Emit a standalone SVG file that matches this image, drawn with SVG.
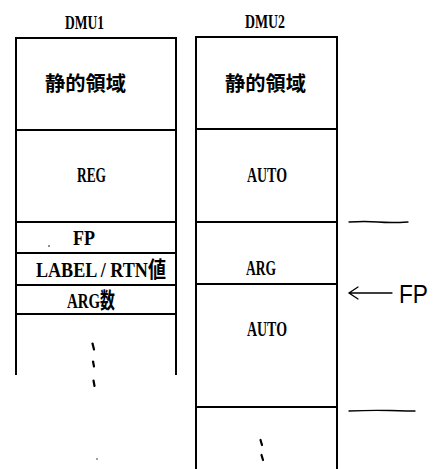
<svg xmlns="http://www.w3.org/2000/svg" width="435" height="469" viewBox="0 0 435 469">
<style>
.box{fill:none;stroke:#000;stroke-width:2}
.ln{stroke:#000;stroke-width:2;fill:none}
.thin{stroke:#000;stroke-width:1.3;fill:none;stroke-linecap:round}
.t{font-family:"Liberation Serif","Noto Sans CJK JP",serif;font-weight:bold;font-size:22px;fill:#000}
.d{font-family:"Liberation Serif",serif;font-weight:bold;font-size:19px;fill:#000}
.j{font-family:"Noto Sans CJK JP",sans-serif;font-weight:bold;font-size:20px;fill:#000}
.h{font-family:"Liberation Sans",sans-serif;font-size:25px;fill:#000}
.tick{stroke:#000;stroke-width:2.2;stroke-linecap:round}
</style>
<rect width="435" height="469" fill="#fff"/>
<g id="dmu1">
  <text class="d" x="65" y="29" textLength="39" lengthAdjust="spacingAndGlyphs">DMU1</text>
  <path class="ln" d="M16 375V38H176V375"/>
  <g id="dmu1-static"><line class="ln" x1="16" y1="130" x2="176" y2="130"/><text class="j" x="45" y="91" textLength="81" lengthAdjust="spacingAndGlyphs">静的領域</text></g>
  <g id="dmu1-reg"><line class="ln" x1="16" y1="222" x2="176" y2="222"/><text class="t" x="77" y="182" textLength="29" lengthAdjust="spacingAndGlyphs">REG</text></g>
  <g id="dmu1-fp"><line class="ln" x1="16" y1="253" x2="176" y2="253"/><text class="t" x="73" y="245" textLength="22" lengthAdjust="spacingAndGlyphs">FP</text><circle cx="49" cy="246" r="0.8" fill="#000"/></g>
  <g id="dmu1-label"><line class="ln" x1="16" y1="285" x2="176" y2="285"/><text class="t" x="36" y="277" textLength="130" lengthAdjust="spacingAndGlyphs">LABEL / RTN値</text></g>
  <g id="dmu1-argn"><line class="ln" x1="16" y1="314" x2="176" y2="314"/><text class="t" x="67" y="308" textLength="48" lengthAdjust="spacingAndGlyphs">ARG数</text></g>
  <g id="dmu1-dots">
    <line class="tick" x1="92.5" y1="343.5" x2="94" y2="349.5"/>
    <line class="tick" x1="93" y1="361.5" x2="94" y2="366.5"/>
    <line class="tick" x1="93.5" y1="380.5" x2="94.5" y2="386"/>
    <circle cx="97" cy="459" r="0.7" fill="#000"/>
  </g>
</g>
<g id="dmu2">
  <text class="d" x="245" y="28" textLength="40" lengthAdjust="spacingAndGlyphs">DMU2</text>
  <path class="ln" d="M196 469V37H337V469"/>
  <g id="dmu2-static"><line class="ln" x1="196" y1="129" x2="337" y2="129"/><text class="j" x="225" y="91" textLength="81" lengthAdjust="spacingAndGlyphs">静的領域</text></g>
  <g id="dmu2-auto"><line class="ln" x1="196" y1="222" x2="337" y2="222"/><text class="t" x="247" y="182" textLength="40" lengthAdjust="spacingAndGlyphs">AUTO</text></g>
  <g id="dmu2-arg"><line class="ln" x1="196" y1="284" x2="337" y2="284"/><text class="t" x="246" y="275" textLength="30" lengthAdjust="spacingAndGlyphs">ARG</text></g>
  <g id="dmu2-auto2"><line class="ln" x1="196" y1="407" x2="337" y2="407"/><text class="t" x="247" y="336" textLength="40" lengthAdjust="spacingAndGlyphs">AUTO</text></g>
  <g id="dmu2-dots">
    <line class="tick" x1="260.5" y1="440" x2="262" y2="445"/>
    <line class="tick" x1="261.5" y1="455" x2="263" y2="460"/>
  </g>
</g>
<g id="connectors">
  <path class="thin" d="M349 222Q365 221 378 222T408 222"/>
  <path class="thin" d="M349 411Q370 410 390 410.5T415 411"/>
  <path class="thin" d="M349 293H392M358 287L349 293L358 299"/>
</g>
<g id="fp-label">
  <text class="h" x="399" y="303" textLength="29" lengthAdjust="spacingAndGlyphs">FP</text>
</g>
</svg>
